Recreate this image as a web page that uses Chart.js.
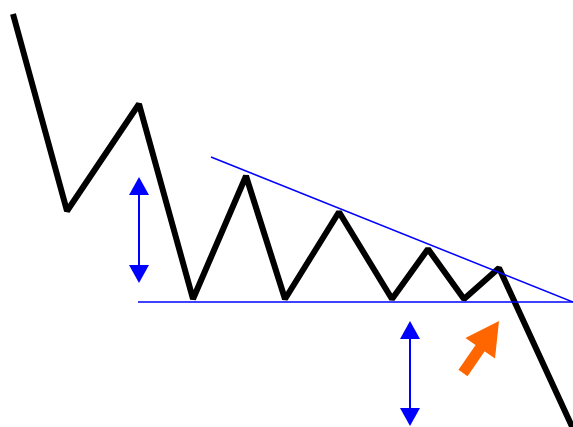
<!DOCTYPE html>
<html>
<head>
<meta charset="utf-8">
<script src="https://cdn.jsdelivr.net/npm/chart.js@4"></script>
<style>
    body { margin: 0; background: #fff; }
    canvas { display: block; }
</style>
</head>
<body>
<canvas id="chart" width="573" height="427"></canvas>
<script>
// price path (x = time, y = price, y grows upward)
var priceX = [13, 67, 139, 193, 246, 285, 339, 392, 428, 464, 499, 575]
var priceY = [413, 216, 323, 128, 251, 128, 215, 128, 178, 128, 159, -6]

// flat support and falling resistance
var supportX = [138, 573]
var supportY = [125, 125]
var resistX = [211, 573]
var resistY = [270, 125]

// height of the pattern, and the same height projected below the breakout
var heightArrowX = [139, 139]
var heightArrowY = [250, 144]
var targetArrowX = [410, 410]
var targetArrowY = [106, 1]

// breakout marker (tail, tip)
var breakArrowX = [463, 499]
var breakArrowY = [54, 106]

function pts(xs, ys) {
    return xs.map((x, i) => ({x: x, y: ys[i]}))
}

// draws arrows for datasets carrying an `arrow` option
var arrowPlugin = {
    id: 'arrows',
    afterDatasetsDraw(chart) {
        var ctx = chart.ctx
        chart.data.datasets.forEach((ds, i) => {
            if (!ds.arrow) return
            var p = chart.getDatasetMeta(i).data
            var a = ds.arrow
            var ends = a.both ? [[0, 1], [1, 0]] : [[0, 1]]
            // shaft between head bases
            var x0 = p[0].x, y0 = p[0].y, x1 = p[1].x, y1 = p[1].y
            var len = Math.hypot(x1 - x0, y1 - y0)
            var ux = (x1 - x0) / len, uy = (y1 - y0) / len
            var sx = a.both ? x0 + ux * a.len * 0.9 : x0
            var sy = a.both ? y0 + uy * a.len * 0.9 : y0
            ctx.save()
            ctx.strokeStyle = a.color
            ctx.fillStyle = a.color
            ctx.lineWidth = a.shaft
            ctx.beginPath()
            ctx.moveTo(sx, sy)
            ctx.lineTo(x1 - ux * a.len * 0.9, y1 - uy * a.len * 0.9)
            ctx.stroke()
            ends.forEach(([from, to]) => {
                var tx = p[to].x, ty = p[to].y
                var dx = (p[to].x - p[from].x) / len
                var dy = (p[to].y - p[from].y) / len
                var bx = tx - dx * a.len, by = ty - dy * a.len
                ctx.beginPath()
                ctx.moveTo(tx, ty)
                ctx.lineTo(bx - dy * a.width / 2, by + dx * a.width / 2)
                ctx.lineTo(bx + dy * a.width / 2, by - dx * a.width / 2)
                ctx.closePath()
                ctx.fill()
            })
            ctx.restore()
        })
    }
}

var blue = '#0000ff'

new Chart(document.getElementById('chart'), {
    type: 'scatter',
    data: {
        datasets: [
            {data: pts(supportX, supportY), showLine: true, borderColor: blue, borderWidth: 1.5, pointRadius: 0},
            {data: pts(resistX, resistY), showLine: true, borderColor: blue, borderWidth: 1.5, pointRadius: 0},
            {data: pts(priceX, priceY), showLine: true, borderColor: '#000', borderWidth: 6,
                borderJoinStyle: 'bevel', pointRadius: 0},
            {data: pts(heightArrowX, heightArrowY), pointRadius: 0,
                arrow: {color: blue, shaft: 2, len: 18, width: 20, both: true}},
            {data: pts(targetArrowX, targetArrowY), pointRadius: 0,
                arrow: {color: blue, shaft: 2, len: 18, width: 20, both: true}},
            {data: pts(breakArrowX, breakArrowY), pointRadius: 0,
                arrow: {color: '#ff6600', shaft: 11, len: 33, width: 36, both: false}},
        ]
    },
    options: {
        responsive: false,
        animation: false,
        layout: {padding: 0},
        plugins: {legend: {display: false}, tooltip: {enabled: false}},
        scales: {
            x: {type: 'linear', min: 0, max: 573, display: false},
            y: {type: 'linear', min: 0, max: 427, display: false},
        }
    },
    plugins: [arrowPlugin]
})
</script>
</body>
</html>
